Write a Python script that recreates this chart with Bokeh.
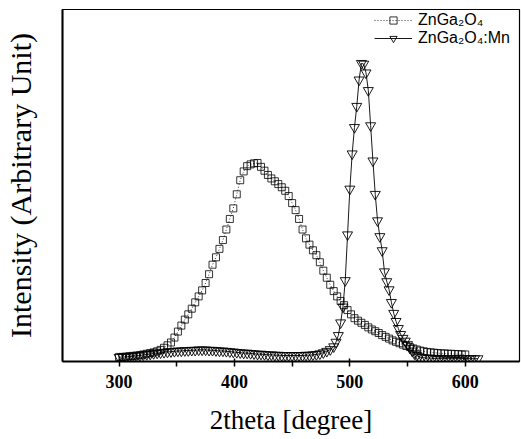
from bokeh.plotting import figure
from bokeh.models import FixedTicker, Range1d, Legend, LegendItem
from bokeh.embed import file_html
from bokeh.resources import INLINE

# ---- data ----
sq_x = list(range(300, 601, 3))
sq_y = [1.3, 1.3, 1.4, 1.5, 1.6, 1.7, 1.8, 2.0, 2.2, 2.4,
        2.6, 2.9, 3.3, 3.9, 4.6, 5.4, 6.8, 8.5, 10.2, 11.9,
        13.4, 15.0, 16.8, 18.5, 20.2, 22.3, 24.8, 27.5, 29.6, 32.0,
        34.5, 37.5, 40.5, 43.5, 47.5, 51.5, 54.0, 55.5, 56.0, 56.3,
        56.4, 55.3, 54.2, 53.0, 52.0, 51.2, 50.4, 49.5, 48.5, 47.0,
        45.0, 43.0, 40.5, 37.5, 35.0, 33.2, 31.6, 30.2, 28.2, 25.8,
        23.8, 21.8, 20.0, 18.5, 17.2, 16.0, 14.6, 13.4, 12.3, 11.6,
        11.0, 10.4, 9.7, 9.1, 8.6, 8.1, 7.5, 7.0, 6.5, 6.0,
        5.6, 5.2, 4.8, 4.4, 4.1, 3.7, 3.4, 3.1, 2.9, 2.7,
        2.6, 2.5, 2.4, 2.3, 2.3, 2.2, 2.2, 2.1, 2.1, 2.0,
        2.0]

tri_x_base = list(range(300, 484, 3))
tri_y_base = [1.2, 1.3, 1.3, 1.4, 1.5, 1.6, 1.7, 1.9, 2.0, 2.1,
              2.3, 2.4, 2.5, 2.6, 2.7, 2.8, 2.9, 3.0, 3.0, 3.1,
              3.1, 3.2, 3.2, 3.3, 3.3, 3.3, 3.2, 3.2, 3.1, 3.0,
              3.0, 2.9, 2.8, 2.7, 2.6, 2.5, 2.4, 2.4, 2.3, 2.2,
              2.1, 2.1, 2.0, 1.9, 1.9, 1.8, 1.8, 1.7, 1.7, 1.7,
              1.7, 1.7, 1.7, 1.7, 1.8, 1.8, 1.9, 2.0, 2.2, 2.5,
              2.9, 3.4]
tri_x_peak = list(range(486, 561, 2))
tri_y_peak = [4.2, 5.5, 7.4, 11.0, 15.5, 23.0, 36.0, 49.0, 59.0, 66.5,
              72.5, 80.0, 84.7, 84.5, 82.0, 77.0, 67.0, 57.0, 47.5, 40.0,
              35.5, 31.5, 25.5, 22.7, 20.4, 16.8, 13.7, 11.4, 9.4, 7.7,
              6.6, 5.8, 4.8, 3.8, 3.0, 2.2, 1.7, 1.3]
tri_x_tail = list(range(563, 612, 3))
tri_y_tail = [1.1, 1.0, 1.0, 0.9, 0.9, 0.9, 0.9, 0.8, 0.8, 0.8,
              0.8, 0.8, 0.8, 0.8, 0.8, 0.8, 0.8]

tri_x = tri_x_base + tri_x_peak + tri_x_tail
tri_y = tri_y_base + tri_y_peak + tri_y_tail

x_ticks = [300, 400, 500, 600]
x_minor = [250, 350, 450, 550]
labels = ["ZnGa\u2082O\u2084", "ZnGa\u2082O\u2084:Mn"]
x_title = "2theta [degree]"
y_title = "Intensity (Arbitrary Unit)"

# ---- figure ----
p = figure(width=521, height=439, output_backend="svg", toolbar_location=None,
           x_range=Range1d(251, 647), y_range=Range1d(0, 100),
           min_border_left=60, min_border_right=2, min_border_top=9,
           min_border_bottom=78)
p.grid.visible = False
p.background_fill_color = "white"
p.border_fill_color = "white"
p.outline_line_color = "black"
p.outline_line_width = 1.2

serif = "Liberation Serif"

xa = p.xaxis[0]
xa.ticker = FixedTicker(ticks=x_ticks, minor_ticks=x_minor)
xa.axis_line_width = 2
xa.axis_line_color = "black"
xa.major_tick_out = 5
xa.major_tick_in = 3
xa.minor_tick_out = 5
xa.minor_tick_in = 0
xa.major_tick_line_width = 1.5
xa.minor_tick_line_width = 1.5
xa.major_tick_line_color = "black"
xa.minor_tick_line_color = "black"
xa.major_label_text_font = serif
xa.major_label_text_font_style = "bold"
xa.major_label_text_font_size = "18px"
xa.major_label_text_color = "black"
xa.major_label_standoff = 8
xa.axis_label = x_title
xa.axis_label_text_font = serif
xa.axis_label_text_font_style = "normal"
xa.axis_label_text_font_size = "27px"
xa.axis_label_text_color = "black"
xa.axis_label_standoff = 14

ya = p.yaxis[0]
ya.ticker = FixedTicker(ticks=[])
ya.axis_line_width = 2
ya.axis_line_color = "black"
ya.major_tick_line_color = None
ya.minor_tick_line_color = None
ya.major_tick_out = 0
ya.minor_tick_out = 0
ya.major_label_standoff = 0
ya.axis_label = y_title
ya.axis_label_text_font = serif
ya.axis_label_text_font_style = "normal"
ya.axis_label_text_font_size = "30px"
ya.axis_label_text_color = "black"
ya.axis_label_standoff = 26

# ZnGa2O4 : squares with dotted line
l1 = p.line(sq_x, sq_y, line_color="black", line_width=0.8, line_dash="1 2")
m1 = p.scatter(sq_x, sq_y, marker="square", size=7, fill_color=None,
               line_color="black", line_width=0.8)

# ZnGa2O4:Mn : inverted triangles with solid line
l2 = p.line(tri_x, tri_y, line_color="black", line_width=0.9)
m2 = p.scatter(tri_x, tri_y, marker="inverted_triangle", size=10, fill_color=None,
               line_color="black", line_width=0.9)

legend = Legend(items=[LegendItem(label=labels[0], renderers=[l1, m1]),
                       LegendItem(label=labels[1], renderers=[l2, m2])],
                location=(312, 314))
legend.border_line_color = None
legend.background_fill_alpha = 0
legend.label_text_font = "Liberation Sans"
legend.label_text_font_size = "16px"
legend.label_text_color = "black"
legend.glyph_width = 38
legend.glyph_height = 18
legend.label_height = 18
legend.spacing = 0
legend.padding = 0
legend.margin = 0
legend.label_standoff = 6
p.add_layout(legend)

open("out.html", "w").write(file_html(p, INLINE))
